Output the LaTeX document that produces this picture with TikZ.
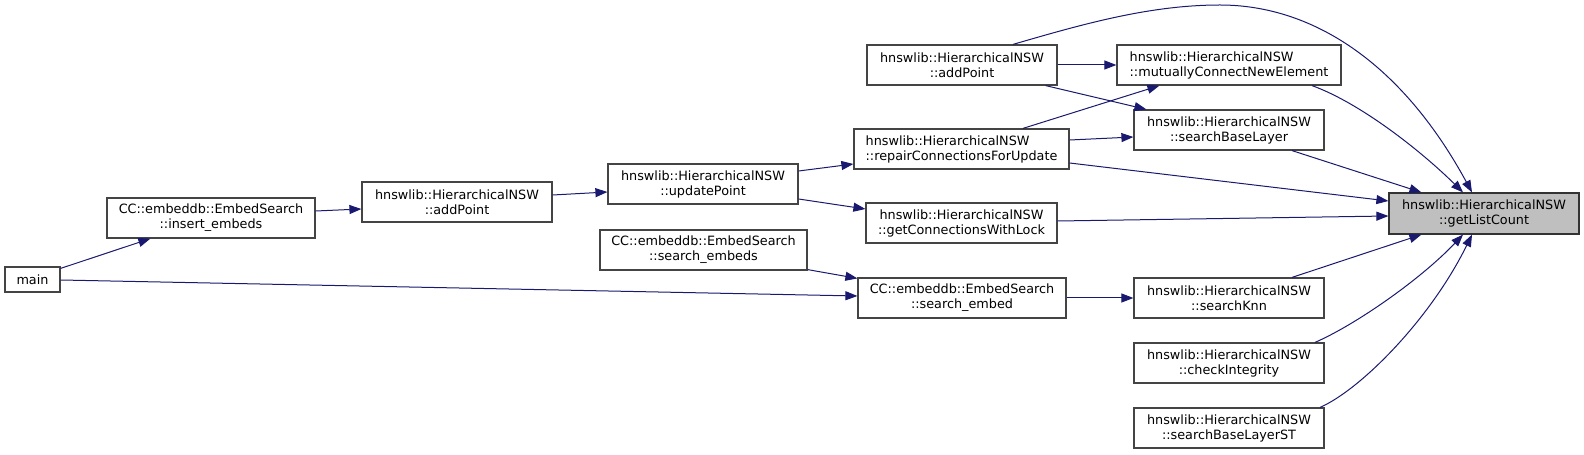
\documentclass[tikz,border=0pt]{standalone}
\usepackage{fontspec}
\setmainfont{DejaVu Sans}
\usetikzlibrary{arrows.meta,calc}
\definecolor{edgec}{HTML}{191970}
\definecolor{boxc}{HTML}{444444}
\definecolor{rootfill}{HTML}{BFBFBF}
\begin{document}
\begin{tikzpicture}[x=1bp,y=-1bp,
  box/.style={draw=boxc, line width=1.2bp, fill=white, inner sep=0pt, align=center,
    minimum height=40bp, minimum width=190bp, font=\fontsize{12.8bp}{15bp}\selectfont},
  lbox/.style={box, align=left},
  root/.style={box, fill=rootfill, draw=black!80},
  edge/.style={draw=edgec, line width=1bp, -{Triangle[length=12bp,width=9bp]}}]
\useasboundingbox (0,0) rectangle (1584,455);
% nodes
\node[box, minimum width=55bp, minimum height=25bp] (main) at (32.5,279.5) {main};
\node[box, minimum width=208bp] (insert) at (211,218) {CC::embeddb::EmbedSearch\\::insert\_embeds};
\node[box] (addL) at (457,202) {hnswlib::HierarchicalNSW\\::addPoint};
\node[box] (update) at (703,184) {hnswlib::HierarchicalNSW\\::updatePoint};
\node[box] (addU) at (962,65) {hnswlib::HierarchicalNSW\\::addPoint};
\node[lbox, minimum width=215bp] (repair) at (961.5,149) {hnswlib::HierarchicalNSW\\::repairConnectionsForUpdate};
\node[box, minimum width=191bp] (getConn) at (961.5,223) {hnswlib::HierarchicalNSW\\::getConnectionsWithLock};
\node[box, minimum width=207bp] (sembeds) at (703.5,250) {CC::embeddb::EmbedSearch\\::search\_embeds};
\node[box, minimum width=208bp] (sembed) at (962,298) {CC::embeddb::EmbedSearch\\::search\_embed};
\node[lbox, minimum width=224bp] (mutual) at (1229,65) {hnswlib::HierarchicalNSW\\::mutuallyConnectNewElement};
\node[box] (sbl) at (1229,130) {hnswlib::HierarchicalNSW\\::searchBaseLayer};
\node[root, minimum height=41bp] (glc) at (1484,213.5) {hnswlib::HierarchicalNSW\\::getListCount};
\node[box] (knn) at (1229,298) {hnswlib::HierarchicalNSW\\::searchKnn};
\node[box] (check) at (1229,363) {hnswlib::HierarchicalNSW\\::checkIntegrity};
\node[box] (sblst) at (1229,428) {hnswlib::HierarchicalNSW\\::searchBaseLayerST};
\coordinate (peak) at (1220,5);
% edges
\draw[edge] ($(main.north east)+(0,2)$) -- ($(insert.south west)+(44,0)$);
\draw[edge] ($(main.east)+(0,0.5)$) -- ($(sembed.west)+(0,-2)$);
\draw[edge] ($(insert.east)+(0,-7)$) -- ($(addL.west)+(0,7)$);
\draw[edge] ($(addL.east)+(0,-7)$) -- ($(update.west)+(0,8)$);
\draw[edge] ($(update.east)+(0,-13)$) -- ($(repair.west)+(0,15)$);
\draw[edge] ($(update.east)+(0,15)$) -- ($(getConn.west)+(0,-14)$);
\draw[edge] ($(sembeds.south east)+(0,-1)$) -- ($(sembed.north west)+(0,1)$);
\draw[edge] (sembed.east) -- (knn.west);
\draw[edge] (addU.east) -- (mutual.west);
\draw[edge] ($(addU.south east)+(-12,0)$) -- ($(sbl.north west)+(13,0)$);
\draw[edge] ($(repair.north)+(61.5,0)$) -- ($(mutual.south west)+(43,0)$);
\draw[edge] ($(repair.east)+(0,-9)$) -- ($(sbl.west)+(0,7)$);
\draw[edge] ($(repair.east)+(0,14)$) -- ($(glc.west)+(0,-12.5)$);
\draw[edge] ($(addU.north)+(51,0)$) .. controls (1083,24) and (1150,5) .. (peak)
  .. controls (1310,5) and (1400,60) .. ($(glc.north)+(-12,0)$);
\draw[edge] ($(mutual.south)+(83,0)$) .. controls (1360,103) and (1420,150) .. ($(glc.north)+(-21,0)$);
\draw[edge] ($(sbl.south)+(63,0)$) -- ($(glc.north west)+(33,0)$);
\draw[edge] ($(getConn.east)+(0,-2)$) -- ($(glc.west)+(0,2.5)$);
\draw[edge] ($(knn.north)+(63,0)$) -- ($(glc.south west)+(33,0)$);
\draw[edge] ($(check.north)+(86,0)$) .. controls (1355,325) and (1420,280) .. ($(glc.south)+(-21,0)$);
\draw[edge] ($(sblst.north)+(91,0)$) .. controls (1360,390) and (1430,320) .. ($(glc.south)+(-12,0)$);
\end{tikzpicture}
\end{document}
